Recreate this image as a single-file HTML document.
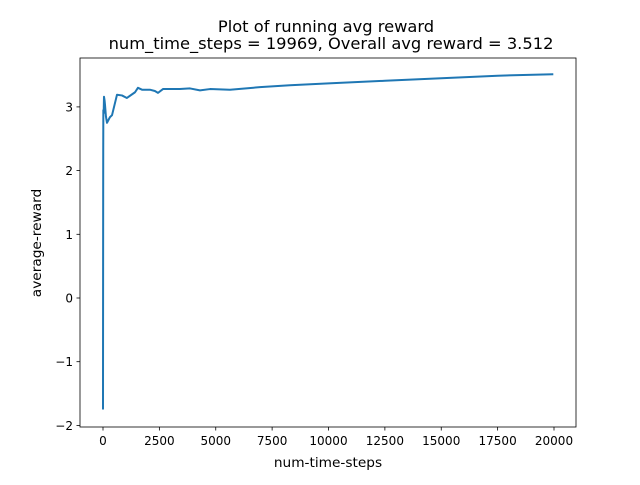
<!DOCTYPE html>
<html><head><meta charset="utf-8"><style>
body{margin:0;background:#fff;font-family:"Liberation Sans","DejaVu Sans",sans-serif;}
svg text{font-family:"DejaVu Sans","Liberation Sans",sans-serif;}
</style></head><body>
<svg id="chart" width="640" height="480" xmlns="http://www.w3.org/2000/svg">
<rect width="640" height="480" fill="#fff"/>
<text x="326" y="32" font-size="16.3" text-anchor="middle">Plot of running avg reward</text>
<text x="331" y="49" font-size="16.3" text-anchor="middle">num_time_steps = 19969, Overall avg reward = 3.512</text>
<g id="ticks"></g>
<path id="line" fill="none" stroke="#1f77b4" stroke-width="2" stroke-linejoin="round"/>
<rect x="80" y="58" width="496" height="369" fill="none" stroke="#000" stroke-width="0.8"/>
<text x="328" y="467" font-size="13.7" text-anchor="middle">num-time-steps</text>
<text transform="translate(41,243) rotate(-90)" font-size="13.7" text-anchor="middle">average-reward</text>
</svg>
<script>
const xSteps=[0,2,5,8,10,15,30,44,70,89,130,177,250,310,400,620,840,1060,1420,1550,1730,2080,2300,2440,2660,2970,3410,3860,4300,4745,5630,6960,8290,10000,12500,15000,17500,19969];
const avgReward=[-1.75,-0.5,0.5,1.6,2.3,2.95,2.9,3.16,3.1,3.03,2.85,2.75,2.8,2.84,2.87,3.19,3.18,3.14,3.23,3.3,3.27,3.27,3.25,3.22,3.28,3.28,3.28,3.29,3.26,3.28,3.27,3.31,3.34,3.37,3.41,3.45,3.49,3.512];
const xTicks=[0,2500,5000,7500,10000,12500,15000,17500,20000];
const yTicks=[-2,-1,0,1,2,3];
const sx=v=>103+v*0.02255;
const sy=v=>298-v*63.7;
document.getElementById('line').setAttribute('d',xSteps.map((x,i)=>(i?'L':'M')+sx(x).toFixed(2)+','+sy(avgReward[i]).toFixed(2)).join(''));
const g=document.getElementById('ticks');
const NS='http://www.w3.org/2000/svg';
xTicks.forEach(t=>{
  const l=document.createElementNS(NS,'line');
  
  
  l.setAttribute('x1',sx(t));l.setAttribute('x2',sx(t));l.setAttribute('y1',427);l.setAttribute('y2',430.5);l.setAttribute('stroke','#000');l.setAttribute('stroke-width','0.8');
  g.appendChild(l);
  const tx=document.createElementNS(NS,'text');
  
  
  tx.setAttribute('x',sx(t));tx.setAttribute('y',445);tx.setAttribute('font-size','12');tx.setAttribute('text-anchor','middle');
  tx.textContent=t;g.appendChild(tx);
});
yTicks.forEach(t=>{
  const l=document.createElementNS(NS,'line');
  
  
  l.setAttribute('x1',76.5);l.setAttribute('x2',80);l.setAttribute('y1',sy(t));l.setAttribute('y2',sy(t));l.setAttribute('stroke','#000');l.setAttribute('stroke-width','0.8');
  g.appendChild(l);
  const tx=document.createElementNS(NS,'text');
  
  
  tx.setAttribute('x',73);tx.setAttribute('y',sy(t)+4.5);tx.setAttribute('font-size','12');tx.setAttribute('text-anchor','end');
  tx.textContent=t<0?'\u2212'+(-t):t;g.appendChild(tx);
});
</script>
</body></html>
